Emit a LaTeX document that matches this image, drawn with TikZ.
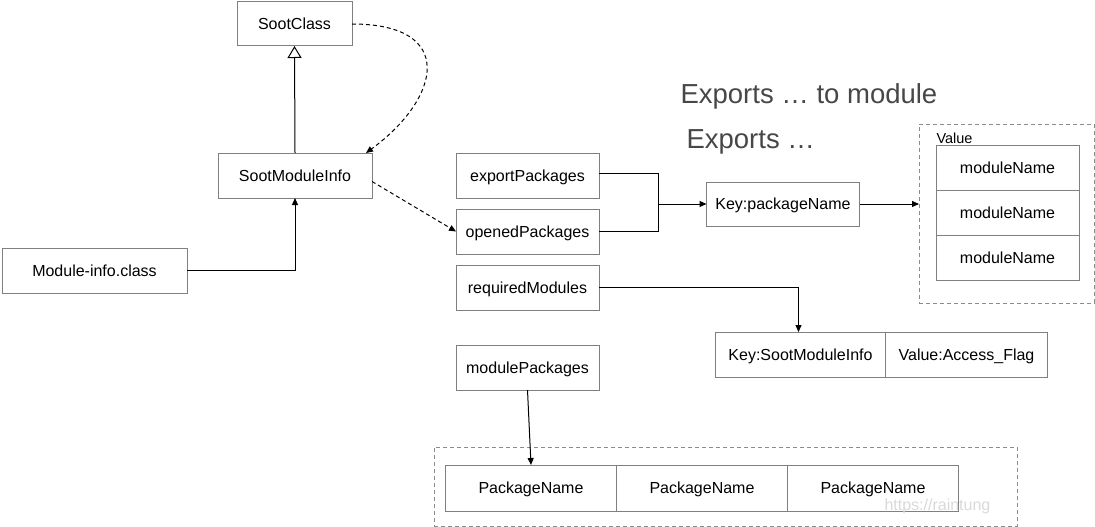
\documentclass[tikz,border=0pt]{standalone}
\usepackage{fontspec}
\setmainfont{Liberation Sans}
\usetikzlibrary{arrows.meta, positioning}

\begin{document}
\begin{tikzpicture}[x=1pt, y=-1pt,
    box/.style   = {rectangle, draw=black!50, line width=1pt, outer sep=0pt,
                    inner sep=0pt, minimum height=45pt, align=center,
                    text height=11.6pt, text depth=0pt,
                    font=\fontsize{16}{19}\selectfont},
    grpbox/.style = {rectangle, draw=black!45, line width=0.8pt,
                     dash pattern=on 4pt off 3pt, outer sep=0pt, inner sep=0pt},
    bigtxt/.style = {anchor=base west, text=black!72,
                     font=\fontsize{27.5}{32}\selectfont},
    arr/.style   = {-{Triangle[length=7pt,width=6pt]}, line width=1pt},
    darr/.style  = {arr, dash pattern=on 4pt off 3pt},
    inh/.style   = {-{Triangle[open,length=12pt,width=14pt]}, line width=1pt}
]
\useasboundingbox (0,0) rectangle (1095,527);

%% ---- LEFT: class hierarchy ----
\node[box, minimum width=115pt, minimum height=44pt] (sootclass)  at (294.5,24)  {SootClass};
\node[box, minimum width=154pt] (moduleinfo) at (295,175.5) {SootModuleInfo};
\node[box, minimum width=185pt] (moduleclass) at (94.5,270.5) {Module-info.class};

%% ---- MIDDLE: fields ----
\node[box, minimum width=143pt] (exportpkg)   at (527.5,175.5) {exportPackages};
\node[box, minimum width=143pt] (openedpkg)   at (527.5,231.5) {openedPackages};
\node[box, minimum width=143pt] (requiredmod) at (527.5,287.5) {requiredModules};
\node[box, minimum width=143pt] (modulepkg)   at (527.5,367.5) {modulePackages};

%% ---- Map of packages ----
\node[box, minimum width=153pt, minimum height=44pt] (keypkg) at (783,204) {Key:packageName};
\coordinate (join) at (658,204);

\node[grpbox, minimum width=175pt, minimum height=179pt] (valuebox) at (1006.5,213.5) {};
\node[anchor=base west, font=\fontsize{14.5}{17}\selectfont] (valuelbl) at (933,143) {Value};
\node[box, minimum width=143pt] (modname1) at (1007.5,167.5) {moduleName};
\node[box, minimum width=143pt, below=0pt of modname1] (modname2) {moduleName};
\node[box, minimum width=143pt, below=0pt of modname2] (modname3) {moduleName};

%% ---- Map of required modules ----
\node[box, minimum width=170pt] (keysmi) at (800.5,354.5) {Key:SootModuleInfo};
\node[box, minimum width=162pt, right=0pt of keysmi] (accessflag) {Value:Access\_Flag};

%% ---- Set of packages ----
\node[grpbox, minimum width=583pt, minimum height=79pt] (pkgbox) at (725.5,486.5) {};
\node[box, minimum width=171pt, minimum height=46pt] (pkgname1) at (531,488) {PackageName};
\node[box, minimum width=171pt, minimum height=46pt, right=0pt of pkgname1] (pkgname2) {PackageName};
\node[box, minimum width=171pt, minimum height=46pt, right=0pt of pkgname2] (pkgname3) {PackageName};

%% ---- Titles ----
\node[bigtxt] (titleto) at (677,103) {Exports … to module};
\node[bigtxt] (titleex) at (683,148) {Exports …};
\node[anchor=base west, text=black!15, font=\fontsize{16}{19}\selectfont] (mark) at (881,510) {https://raintung};

%% =============================================
%% ARROWS
%% =============================================
\draw[inh] (moduleinfo.north) -- (sootclass.south);
\draw[darr] (sootclass.east) .. controls +(105,0) and +(75,-55) .. ([xshift=-6pt]moduleinfo.north east);
\draw[arr] (moduleclass.east) -| (moduleinfo.south);
\draw[darr] ([yshift=-6pt]moduleinfo.east) -- (openedpkg.west);

\draw[line width=1pt] ([yshift=2pt]exportpkg.east) -| (join);
\draw[line width=1pt] (openedpkg.east) -| (join);
\draw[arr] (join) -- (keypkg.west);
\draw[arr] (keypkg.east) -- (keypkg.east -| valuebox.west);

\draw[arr] (requiredmod.east) -| ([xshift=-2pt]keysmi.north);
\draw[arr] (modulepkg.south) -- (pkgname1.north);

\end{tikzpicture}
\end{document}
